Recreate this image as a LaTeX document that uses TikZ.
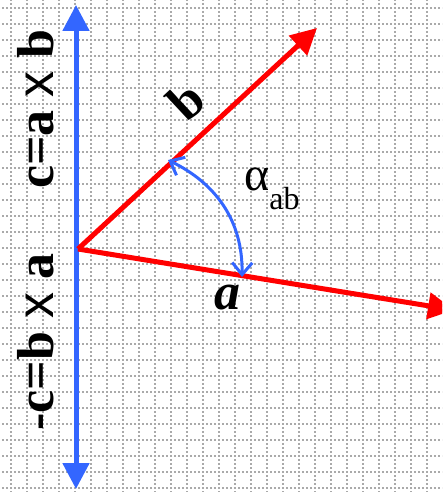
\documentclass[tikz,border=0pt]{standalone}
\usepackage{fontspec}
\setmainfont{Liberation Serif}
\newfontfamily\crossfont{Liberation Sans}
\usepackage{xcolor}
\usepackage{tikz}
\definecolor{gridgray}{RGB}{170,170,170}
\definecolor{axisblue}{RGB}{51,102,255}
\tikzset{
  gridline/.style={draw=gridgray, line width=1.6pt,
                   dash pattern=on 2pt off 2pt},
  vecline/.style={draw=red, line width=5pt,
                  -{Triangle[length=26pt, width=26pt]}},
  axisline/.style={draw=axisblue, line width=5pt,
                   {Triangle[length=26pt, width=26pt]}-{Triangle[length=26pt, width=26pt]}},
  anglearc/.style={draw=axisblue, line width=3pt,
                   {Straight Barb[length=12pt, width=20pt]}-{Straight Barb[length=12pt, width=20pt]}},
  biglabel/.style={font=\fontsize{52}{52}\selectfont\bfseries, inner sep=0pt}
}
\usetikzlibrary{arrows.meta}

\begin{document}
\begin{tikzpicture}[x=1pt, y=-1pt]
    \useasboundingbox (0,0) rectangle (442,492);
    \clip (0,0) rectangle (442,492);

    % dotted grid
    \foreach \gx in {11,27,...,427}
        \draw[gridline] (\gx,-9) -- (\gx,500);
    \foreach \gy in {8,24,...,488}
        \draw[gridline] (-6,\gy) -- (450,\gy);

    \coordinate (ctop) at (76,5);
    \coordinate (cbot) at (76,489);
    \coordinate (orig) at (78,249);
    \coordinate (atip) at (454,310);
    \coordinate (btip) at (317,28);
    \coordinate (onb) at (168,160);
    \coordinate (ona) at (242,277);

    \draw[axisline] (cbot) -- (ctop);
    \draw[vecline] (orig) -- (atip);
    \draw[vecline] (orig) -- (btip);
    \draw[anglearc] (onb) .. controls (215,183) and (243,220) .. (ona);

    \node[biglabel, rotate=90, anchor=base] (cab) at (53,109) {c=a {\crossfont\mdseries x} b};
    \node[biglabel, rotate=90, anchor=base] (cba) at (53,342) {-c=b {\crossfont\mdseries x} a};
    \node[biglabel, rotate=43] (lblb) at (186,101) {b};
    \node[biglabel, font=\fontsize{52}{52}\selectfont\bfseries\itshape] (lbla) at (227,298) {a};
    \node[inner sep=0pt, anchor=base west, font=\fontsize{48}{48}\selectfont] (alpha) at (244,190)
        {α{\fontsize{32}{32}\selectfont\raisebox{-19pt}{ab}}};
\end{tikzpicture}
\end{document}
